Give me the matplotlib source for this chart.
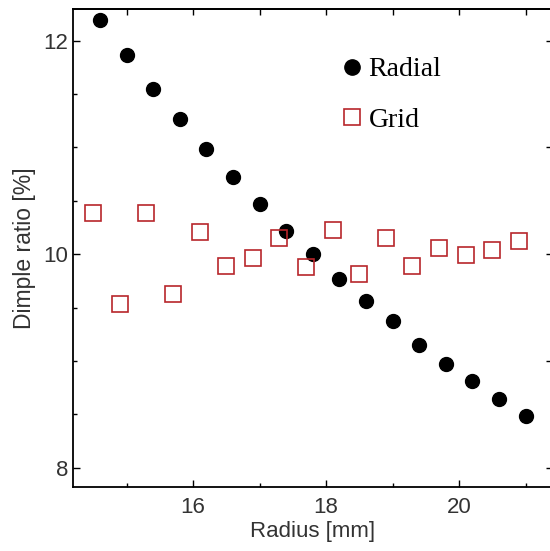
import matplotlib
matplotlib.use("Agg")
import matplotlib.pyplot as plt
import numpy as np

radial_x = [14.6, 15.0, 15.4, 15.8, 16.2, 16.6, 17.0, 17.4, 17.8, 18.2, 18.6, 19.0, 19.4, 19.8, 20.2, 20.6, 21.0]
radial_y = [12.19, 11.87, 11.55, 11.27, 10.99, 10.72, 10.47, 10.22, 10.00, 9.77, 9.56, 9.37, 9.15, 8.97, 8.81, 8.64, 8.48]
grid_x = [14.5, 14.9, 15.3, 15.7, 16.1, 16.5, 16.9, 17.3, 17.7, 18.1, 18.5, 18.9, 19.3, 19.7, 20.1, 20.5, 20.9]
grid_y = [10.39, 9.53, 10.39, 9.63, 10.21, 9.89, 9.96, 10.15, 9.88, 10.23, 9.81, 10.15, 9.89, 10.06, 9.99, 10.04, 10.12]

x_major = [16, 18, 20]
x_minor = [15, 17, 19, 21]
y_major = [8, 10, 12]
top_ticks = [15, 16, 17, 18, 19, 20, 21]
right_ticks = [8, 9, 10, 11, 12]

W, H = 550, 551
fig = plt.figure(figsize=(W / 100, H / 100), dpi=100)
ax_left, ax_right, ax_top, ax_bot = 73, 552, 9, 487
ax = fig.add_axes([ax_left / W, 1 - ax_bot / H, (ax_right - ax_left) / W, (ax_bot - ax_top) / H])

red = '#b8262b'
ax.plot(radial_x, radial_y, 'o', color='black', markersize=10, linestyle='none', label='Radial')
ax.plot(grid_x, grid_y, 's', markerfacecolor='none', markeredgecolor=red, markeredgewidth=1.2,
        markersize=11, linestyle='none', label='Grid')

ax.set_xlim(14.195, 14.195 + (ax_right - ax_left) / 66.5)
ax.set_ylim(7.819, 12.297)

ax.set_xticks(x_major)
ax.set_xticks(x_minor, minor=True)
ax.set_yticks(y_major)
ax.set_yticks(np.arange(8, 12.01, 0.5), minor=True)

tick_col = '#333333'
ax.tick_params(axis='both', which='both', direction='in', colors='black', labelcolor=tick_col,
               labelsize=16, width=1.0)
for lab in ax.get_xticklabels() + ax.get_yticklabels():
    lab.set_fontfamily('Liberation Sans')
ax.tick_params(axis='both', which='major', length=5)
ax.tick_params(axis='both', which='minor', length=3)
ax.tick_params(axis='x', which='major', pad=7)
ax.tick_params(axis='y', which='major', pad=3.5)

secx = ax.secondary_xaxis('top')
secx.set_xticks(top_ticks)
secx.tick_params(direction='in', length=4, width=1.0, labeltop=False)
secx.spines['top'].set_linewidth(1.3)
secy = ax.secondary_yaxis('right')
secy.set_yticks(right_ticks)
secy.tick_params(direction='in', length=4, width=1.0, labelright=False)

for s in ax.spines.values():
    s.set_linewidth(1.3)

ax.set_xlabel('Radius [mm]', fontsize=16, family='Liberation Sans', color=tick_col, labelpad=2)
ax.set_ylabel('Dimple ratio [%]', fontsize=16.5, family='Liberation Sans', color=tick_col, labelpad=5.5)

leg = ax.legend(loc='upper left', bbox_to_anchor=(0.553, 0.90), frameon=False, borderpad=0,
                borderaxespad=0, handlelength=1.0, handletextpad=0.1, labelspacing=0.9,
                markerscale=1.1, prop={'family': 'Liberation Serif', 'size': 20})

fig.savefig('out.png', dpi=100)
